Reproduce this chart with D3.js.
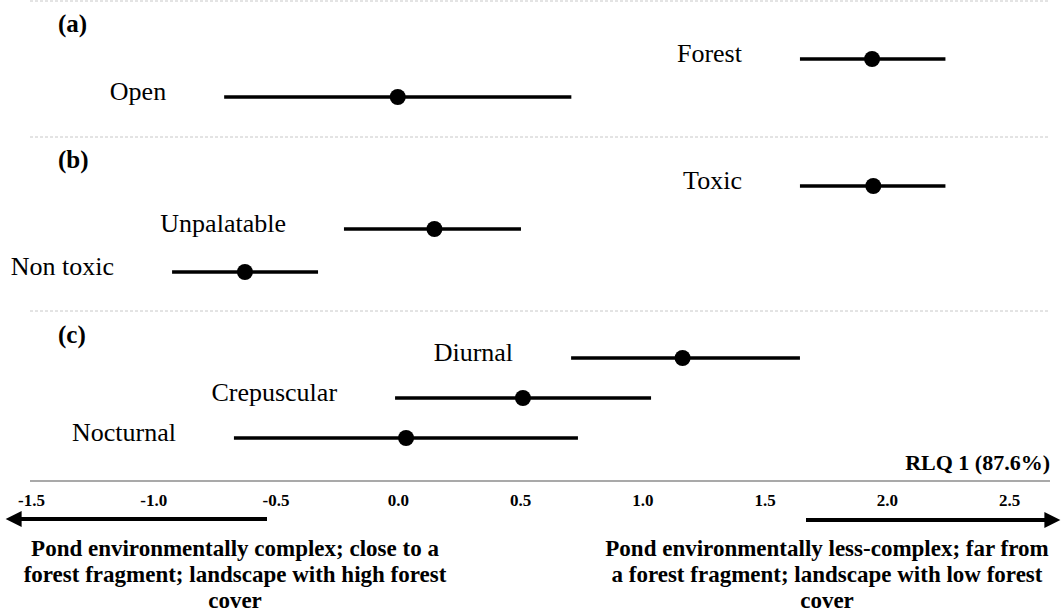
<!DOCTYPE html>
<html>
<head>
<meta charset="utf-8">
<script src="https://cdn.jsdelivr.net/npm/d3@7"></script>
<style>
  body { margin: 0; background: #fff; }
  text { font-family: "Liberation Serif", serif; fill: #000; }
</style>
</head>
<body>
<svg width="1064" height="613"></svg>
<script>
// data (RLQ axis 1 scores, mean and range)
var panels = ["(a)", "(b)", "(c)"];
var panelA = ["Forest", "Open"];
var panelB = ["Toxic", "Unpalatable", "Non toxic"];
var panelC = ["Diurnal", "Crepuscular", "Nocturnal"];
var means = { "Forest": 1.94, "Open": 0.0, "Toxic": 1.945, "Unpalatable": 0.15, "Non toxic": -0.625,
              "Diurnal": 1.165, "Crepuscular": 0.512, "Nocturnal": 0.034 };
var lows  = { "Forest": 1.645, "Open": -0.71, "Toxic": 1.645, "Unpalatable": -0.22, "Non toxic": -0.923,
              "Diurnal": 0.709, "Crepuscular": -0.011, "Nocturnal": -0.67 };
var highs = { "Forest": 2.24, "Open": 0.71, "Toxic": 2.24, "Unpalatable": 0.504, "Non toxic": -0.326,
              "Diurnal": 1.645, "Crepuscular": 1.036, "Nocturnal": 0.737 };
var tickValues = [-1.5, -1.0, -0.5, 0.0, 0.5, 1.0, 1.5, 2.0, 2.5];
var axisTitle = "RLQ 1 (87.6%)";
var leftNote = ["Pond environmentally complex; close to a", "forest fragment; landscape with high forest", "cover"];
var rightNote = ["Pond environmentally less-complex; far from", "a forest fragment; landscape with low forest", "cover"];

function main() {
    var svg = d3.select("svg");

    var x = d3.scaleLinear().domain([-1.5, 2.5]).range([31, 1009]);

    // one point scale per panel for the rows
    var rows = [
        { cats: panelA, y: d3.scalePoint().domain(panelA).range([59, 97]), labelY: 32 },
        { cats: panelB, y: d3.scalePoint().domain(panelB).range([186, 272]), labelY: 168 },
        { cats: panelC, y: d3.scalePoint().domain(panelC).range([358, 438]), labelY: 343 }
    ];

    // dotted separators
    [1, 137, 311].forEach(function(yy) {
        svg.append("line")
            .attr("x1", 30).attr("x2", 1050)
            .attr("y1", yy).attr("y2", yy)
            .attr("stroke", "#c8c8c8")
            .attr("stroke-width", 1)
            .attr("stroke-dasharray", "3,2");
    });

    rows.forEach(function(p, i) {
        svg.append("text")
            .attr("x", 58)
            .attr("y", p.labelY)
            .attr("font-size", "25px")
            .attr("font-weight", "bold")
            .text(panels[i]);

        var g = svg.append("g");
        var row = g.selectAll(".row").data(p.cats).enter().append("g").attr("class", "row");

        row.append("line")
            .attr("x1", function(d) { return x(lows[d]); })
            .attr("x2", function(d) { return x(highs[d]); })
            .attr("y1", function(d) { return p.y(d); })
            .attr("y2", function(d) { return p.y(d); })
            .attr("stroke", "#000")
            .attr("stroke-width", 3.5);

        row.append("circle")
            .attr("cx", function(d) { return x(means[d]); })
            .attr("cy", function(d) { return p.y(d); })
            .attr("r", 8)
            .attr("fill", "#000");

        row.append("text")
            .attr("x", function(d) { return x(lows[d]) - 58; })
            .attr("y", function(d) { return p.y(d) + 3; })
            .attr("text-anchor", "end")
            .attr("font-size", "26px")
            .text(function(d) { return d; });
    });

    // x axis
    var axis = svg.append("g")
        .attr("transform", "translate(0,481)")
        .call(d3.axisBottom(x).tickValues(tickValues).tickSize(0).tickPadding(13)
            .tickFormat(function(d) { return d.toFixed(1); }));
    axis.select(".domain").remove();
    axis.selectAll("text")
        .attr("font-family", "Liberation Serif")
        .attr("font-weight", "bold")
        .attr("font-size", "17px")
        .attr("fill", "#000");

    svg.append("line")
        .attr("x1", 30).attr("x2", 1050)
        .attr("y1", 481).attr("y2", 481)
        .attr("stroke", "#8c8c8c")
        .attr("stroke-width", 1.5);

    svg.append("text")
        .attr("x", 1050)
        .attr("y", 470)
        .attr("text-anchor", "end")
        .attr("font-size", "22px")
        .attr("font-weight", "bold")
        .text(axisTitle);

    // direction arrows
    var defs = svg.append("defs");
    defs.append("marker")
        .attr("id", "head")
        .attr("viewBox", "0 0 10 10")
        .attr("refX", 1).attr("refY", 5)
        .attr("markerWidth", 4.5).attr("markerHeight", 4)
        .attr("markerUnits", "strokeWidth")
        .attr("orient", "auto")
        .append("path")
        .attr("d", "M0,0 L10,5 L0,10 Z")
        .attr("fill", "#000");

    svg.append("line")
        .attr("x1", 267).attr("x2", 20)
        .attr("y1", 519).attr("y2", 519)
        .attr("stroke", "#000").attr("stroke-width", 4)
        .attr("marker-end", "url(#head)");

    svg.append("line")
        .attr("x1", 806).attr("x2", 1046)
        .attr("y1", 520).attr("y2", 520)
        .attr("stroke", "#000").attr("stroke-width", 4)
        .attr("marker-end", "url(#head)");

    function note(lines, cx) {
        svg.append("text")
            .attr("text-anchor", "middle")
            .attr("font-size", "23px")
            .attr("font-weight", "bold")
            .selectAll("tspan").data(lines).enter().append("tspan")
            .attr("x", cx)
            .attr("y", function(d, i) { return 556 + i * 26; })
            .text(function(d) { return d; });
    }
    note(leftNote, 235);
    note(rightNote, 827);
}
main();
</script>
</body>
</html>
